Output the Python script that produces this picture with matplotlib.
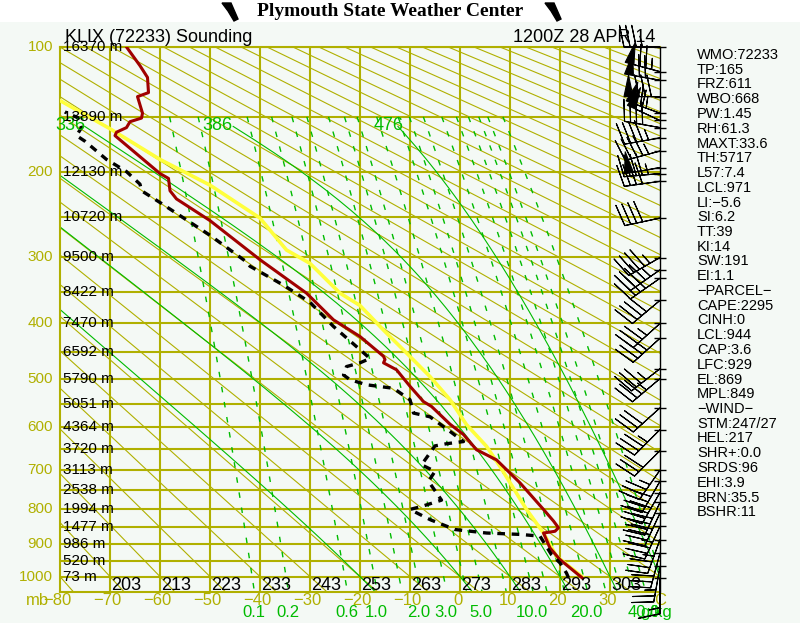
import numpy as np
import matplotlib
matplotlib.use('Agg')
import matplotlib.pyplot as plt
from matplotlib.patches import Polygon, Rectangle

KAPPA = 0.286

# --- sounding (pressure mb, temperature C) ---
temp_p = [1005, 947, 912, 868, 863, 853, 834, 802, 732, 675, 651, 616, 593, 555, 545,
          514, 482, 469, 463, 457, 422, 394, 352, 304, 254, 229, 220, 207, 202, 166,
          163, 159, 154, 151, 147, 134, 131, 120, 112, 100]
temp_c = [24.5, 20.0, 18.0, 16.7, 19.0, 19.7, 18.7, 16.7, 12.0, 7.3, 3.3, 0.7, -2.0, -5.7, -7.3,
          -10.0, -12.7, -15.3, -15.0, -15.3, -20.0, -25.3, -30.7, -40.0, -50.0, -56.7, -58.0, -58.3, -60.0, -69.0,
          -68.7, -66.7, -66.0, -63.7, -63.5, -64.5, -62.3, -62.5, -64.0, -66.7]

dew_p = [1004, 989, 957, 932, 877, 872, 868, 858, 830, 802, 794, 777, 728, 703, 687,
         642, 637, 632, 609, 577, 569, 541, 518, 511, 501, 492, 476, 469, 461, 445,
         405, 366, 340, 313, 307, 272, 233, 220, 213, 200, 188, 171, 166, 159, 151, 146]
dew_c = [21.7, 21.3, 20.0, 18.3, 16.0, 12.0, 5.3, -1.0, -6.0, -10.0, -7.7, -3.7, -6.3, -5.0, -7.7,
         -5.0, -2.7, 0.7, -2.0, -6.0, -9.3, -10.0, -13.3, -18.7, -22.0, -23.3, -22.7, -20.0, -18.0, -20.0,
         -25.3, -30.0, -35.3, -42.0, -42.7, -50.0, -60.0, -63.7, -64.0, -66.7, -70.7, -75.0, -76.7, -75.7, -76.3, -79.0]

parcel_p = [1004, 937, 868, 802, 691, 643, 594, 541, 495, 451, 411, 371, 352, 309, 291,
            251, 214, 188, 160, 137, 120]
parcel_c = [24.7, 19.3, 16.7, 13.3, 8.0, 5.3, 1.3, -2.0, -6.0, -10.7, -15.3, -20.0, -24.0, -30.0, -34.7,
            -40.0, -50.0, -60.0, -70.0, -80.0, -86.0]

# heights of the 50 mb levels
height_p = [100, 150, 200, 250, 300, 350, 400, 450, 500, 550, 600, 650, 700, 750, 800, 850, 900, 950, 1000]
height_m = [16370, 13890, 12130, 10720, 9500, 8422, 7470, 6592, 5790, 5051, 4364, 3720, 3113, 2538,
            1994, 1477, 986, 520, 73]

# winds (mb, direction deg, speed kt)
wind_p = [100, 116, 122, 134, 147, 153, 159, 168, 180, 196, 202, 210, 251, 301, 318, 330,
          363, 400, 425, 480, 499, 558, 605, 653, 700, 728, 757, 783, 812, 849, 887, 927, 968, 1004]
wind_dir = [270, 285, 280, 270, 290, 295, 280, 260, 255, 260, 265, 262, 258, 240, 235, 235,
            230, 228, 228, 232, 230, 228, 225, 225, 215, 210, 210, 205, 205, 205, 200, 195, 190, 180]
wind_spd = [35, 75, 70, 80, 65, 60, 40, 45, 45, 50, 45, 40, 40, 45, 45, 40,
            40, 35, 35, 35, 35, 30, 35, 30, 35, 40, 40, 40, 40, 35, 35, 30, 25, 15]

# background diagram lines
isobars = list(range(100, 1001, 50))
isotherms = list(range(-70, 40, 10))
dry_t1000 = list(range(-80, 341, 10))
dry_labels = list(range(-70, 31, 10))
moist_tw = [-20, 0, 10, 20, 30, 40]
moist_labels = ['', '', '', '336', '386', '476']
mix_ratios = [0.1, 0.2, 0.6, 1, 1.5, 2, 3, 4, 5, 7, 10, 12, 15, 20, 25, 30, 35, 40, 50]
mix_labels = [0.1, 0.2, 0.6, 1.0, 2.0, 3.0, 5.0, 10.0, 20.0, 40.0]
temp_labels = list(range(-80, 31, 10))

panel_lines = ['WMO:72233', 'TP:165', 'FRZ:611', 'WBO:668', 'PW:1.45', 'RH:61.3', 'MAXT:33.6',
               'TH:5717', 'L57:7.4', 'LCL:971', 'LI:\u22125.6', 'SI:6.2', 'TT:39', 'KI:14', 'SW:191',
               'EI:1.1', '\u2212PARCEL\u2212', 'CAPE:2295', 'CINH:0', 'LCL:944', 'CAP:3.6', 'LFC:929',
               'EL:869', 'MPL:849', '\u2212WIND\u2212', 'STM:247/27', 'HEL:217', 'SHR+:0.0', 'SRDS:96',
               'EHI:3.9', 'BRN:35.5', 'BSHR:11']

BG = '#f4f9f5'
YEL = '#b0b000'
GRN = '#00bb00'
plt.rcParams['font.family'] = ['Liberation Sans', 'DejaVu Sans']


def fwd(p):
    return np.power(np.clip(p, 1e-6, None), KAPPA)


def inv(u):
    return np.power(np.clip(u, 1e-6, None), 1.0 / KAPPA)


def sat_mix(t, p):
    es = 6.112 * np.exp(17.67 * t / (t + 243.5))
    return 0.622 * es / (p - es)


def moist_adiabat(tw, plev):
    # pseudo-adiabat integrated from 1000 mb
    Rd, cp, Lv, eps = 287.04, 1005.7, 2.501e6, 0.622

    def dtdp(t, p):
        T = t + 273.15
        rs = sat_mix(t, p)
        return (Rd * T + Lv * rs) / (p * (cp + Lv ** 2 * rs * eps / (Rd * T ** 2)))

    out = {}
    for direction in (-1, 1):
        t, p = float(tw), 1000.0
        while (p > plev.min() - 1) if direction < 0 else (p < plev.max() + 1):
            out[round(p, 3)] = t
            dp = 2.0 * direction
            k1 = dtdp(t, p)
            k2 = dtdp(t + 0.5 * dp * k1, p + 0.5 * dp)
            k3 = dtdp(t + 0.5 * dp * k2, p + 0.5 * dp)
            k4 = dtdp(t + dp * k3, p + dp)
            t += dp * (k1 + 2 * k2 + 2 * k3 + k4) / 6
            p += dp
    ps = np.array(sorted(out))
    ts = np.array([out[k] for k in sorted(out)])
    return np.interp(plev, ps, ts)


def dew_from_mix(w, p):
    e = w * p / (622.0 + w)
    a = np.log(e / 6.112)
    return 243.5 * a / (17.67 - a)


fig = plt.figure(figsize=(8, 6.23), dpi=100, facecolor=BG)
ax = fig.add_axes([60 / 800, 1 - 592 / 623, 600 / 800, 545 / 623])
ax.set_yscale('function', functions=(fwd, inv))
ax.set_xlim(-80, 40)
ax.set_ylim(1050, 100)
ax.set_facecolor(BG)
ax.set_xticks([])
ax.set_yticks([])
ax.minorticks_off()
for name, sp in ax.spines.items():
    sp.set_color(YEL)
    sp.set_linewidth(1.5)
ax.spines['right'].set_color('black')
ax.spines['right'].set_linewidth(1.0)

# title band
fig.patches.append(Rectangle((0, 1 - 22 / 623), 1, 22 / 623, transform=fig.transFigure,
                             facecolor='white', edgecolor='none'))
fig.text(390 / 800, 1 - 11 / 623, 'Plymouth State Weather Center', ha='center', va='center',
         fontsize=14, fontweight='bold', family=['Liberation Serif', 'DejaVu Serif'])
for x0 in (222, 545):
    pts = [(x0, 3), (x0 + 9, 3), (x0 + 16, 19), (x0 + 12, 21), (x0 + 6, 11)]
    fig.patches.append(Polygon([(px / 800, 1 - py / 623) for px, py in pts], closed=True,
                               transform=fig.transFigure, facecolor='black', edgecolor='black'))

# grid: isobars and isotherms
for p in isobars:
    ax.axhline(p, color=YEL, lw=1.5, zorder=1)
for t in isotherms:
    ax.axvline(t, color=YEL, lw=1.5, zorder=1)

p_line = np.linspace(100, 1050, 120)
for t0 in dry_t1000:
    th = t0 + 273.15
    ax.plot(th * (p_line / 1000.0) ** KAPPA - 273.15, p_line, color=YEL, lw=0.8, zorder=1)
for t0 in dry_labels:
    ax.text(t0 + 0.3, 1000, f'{int(t0 + 273.15)}', ha='left', va='top', fontsize=13,
            color='black', zorder=6)

# moist adiabats
p_moist = np.linspace(158, 1050, 150)
for tw, lab in zip(moist_tw, moist_labels):
    ax.plot(moist_adiabat(tw, p_moist), p_moist, color=GRN, lw=0.8, zorder=2)
    if lab:
        t150 = moist_adiabat(tw, np.array([150.0]))[0]
        ax.text(t150, 150, lab, ha='center', va='top', fontsize=13, color=GRN, zorder=6, clip_on=False)

# mixing ratio lines
p_mix = np.linspace(150, 1050, 80)
for w in mix_ratios:
    ax.plot(dew_from_mix(w, p_mix), p_mix, color=GRN, lw=1.0, dashes=(4, 7), zorder=2)

xtrans = ax.get_xaxis_transform()
for w in mix_labels:
    ax.text(dew_from_mix(w, 1030.0), -0.037, f'{w:.1f}', transform=xtrans, ha='center', va='center',
            fontsize=12, color=GRN, clip_on=False)
ax.text(36, -0.037, 'g/kg', transform=xtrans, ha='left', va='center', fontsize=12, color=GRN, clip_on=False)

for t in temp_labels:
    ax.text(t - 0.5, -0.0165, f'\u2212{abs(t)}' if t < 0 else f'{t}', transform=xtrans, ha='center',
            va='center', fontsize=12, color=YEL, clip_on=False)
ax.text(-84.5, -0.0165, 'mb', transform=xtrans, ha='center', va='center', fontsize=12, color=YEL,
        clip_on=False)
ax.text(40, -0.0165, 'C', transform=xtrans, ha='center', va='center', fontsize=12, color=YEL, clip_on=False)

# pressure and height labels
for p in range(100, 1001, 100):
    ax.text(-81.4, p, f'{p}', ha='right', va='center', fontsize=11, color=YEL, clip_on=False)
for p, h in zip(height_p, height_m):
    ax.text(-79.4, p, f'{h} m', ha='left', va='center', fontsize=11, color='black', zorder=6)

# profiles
ax.plot(parcel_c, parcel_p, color='#ffff3c', lw=2.6, zorder=3, solid_capstyle='butt')
ax.plot(temp_c, temp_p, color='#a00000', lw=2.2, zorder=4)
ax.plot(dew_c, dew_p, color='black', lw=2.4, dashes=(2.3, 2.0), zorder=5)

# winds along the right edge
rad = np.radians(wind_dir)
u = -np.array(wind_spd) * np.sin(rad)
v = -np.array(wind_spd) * np.cos(rad)
ax.barbs(np.full(len(wind_p), 40.0), wind_p, u, v, length=7.2, linewidth=0.8, color='black',
         sizes=dict(spacing=0.17, height=0.6), clip_on=False, zorder=7)
ax.scatter(np.full(len(wind_p), 40.0), wind_p, marker='_', s=70, linewidths=1.0, color='black',
           clip_on=False, zorder=8)

# headers
fig.text(65 / 800, 1 - 38 / 623, 'KLIX (72233) Sounding', ha='left', va='center', fontsize=13)
fig.text(655 / 800, 1 - 38 / 623, '1200Z 28 APR 14', ha='right', va='center', fontsize=13)

# index panel
for i, line in enumerate(panel_lines):
    fig.text(697 / 800, 1 - (55 + i * 14.75) / 623, line, ha='left', va='center', fontsize=10.5)

fig.savefig('out.png', dpi=100, facecolor=BG)
